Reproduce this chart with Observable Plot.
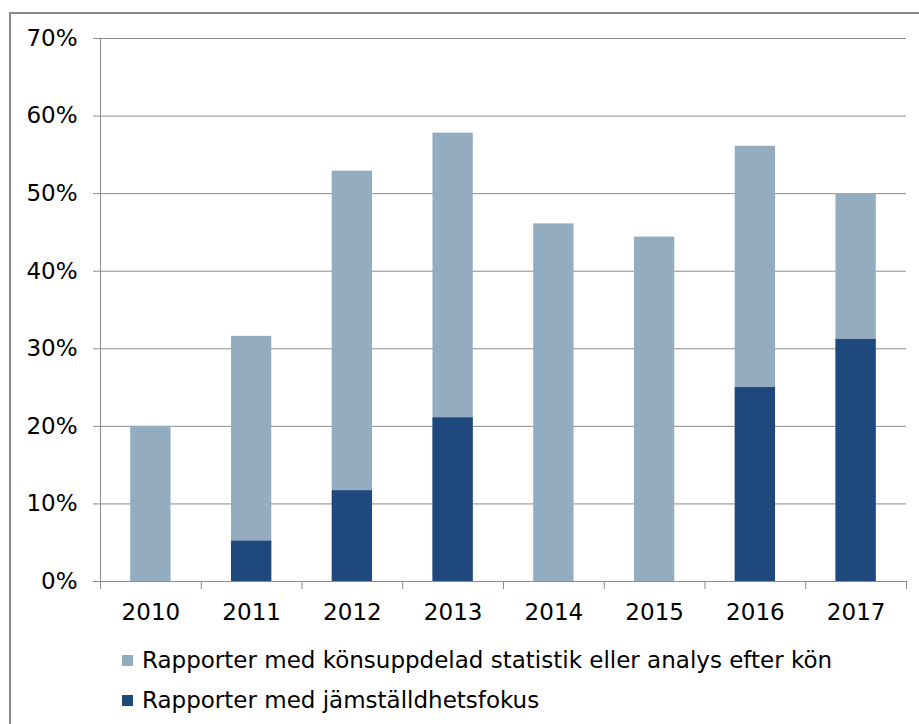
<!DOCTYPE html>
<html><head><meta charset="utf-8">
<script src="https://cdn.jsdelivr.net/npm/d3@7"></script>
<script src="https://cdn.jsdelivr.net/npm/@observablehq/plot@0.6"></script>
<style>
body{margin:0;background:#fff;font-family:"DejaVu Sans",Verdana,sans-serif;}
#wrap{position:relative;width:919px;height:724px;overflow:hidden;background:#fff;}
#border{position:absolute;left:9px;top:12px;width:1000px;height:1000px;border:2px solid #8a8a8a;box-sizing:border-box;}
#chart{position:absolute;left:0;top:0;}
#legend{position:absolute;left:122px;top:640px;font-size:23px;color:#000;}
.item{display:flex;align-items:center;height:40px;white-space:nowrap;}
.sw{width:11px;height:11px;margin-right:9px;flex:none;}
</style></head>
<body>
<div id="wrap"><div id="border"></div><div id="chart"></div><div id="legend"></div></div>
<script>
const years = ["2010","2011","2012","2013","2014","2015","2016","2017"];
const konsuppdelad = [0.200,0.316,0.529,0.578,0.461,0.444,0.561,0.500];
const jamstalldhet = [0,0.052,0.117,0.211,0,0,0.250,0.312];
const yTicks = [0,0.1,0.2,0.3,0.4,0.5,0.6,0.7];
const seriesNames = ["Rapporter med könsuppdelad statistik eller analys efter kön","Rapporter med jämställdhetsfokus"];
const colors = ["#93acbf","#1f497d"];
const gridColor = "#8c8c8c";

const rows = years.map((year,i)=>({year, i, total: konsuppdelad[i], fokus: jamstalldhet[i]}));
const boundaries = d3.range(years.length + 1);

const plot = Plot.plot({
  width: 919, height: 630,
  marginLeft: 100, marginRight: 13, marginTop: 38, marginBottom: 49,
  style: {fontFamily: '"DejaVu Sans", Verdana, sans-serif', fontSize: "23px", color: "#000", background: "transparent"},
  x: {type: "linear", domain: [0, years.length]},
  y: {domain: [0, 0.7]},
  marks: [
    Plot.gridY(yTicks, {stroke: gridColor, strokeOpacity: 1}),
    Plot.rect(rows, {x1: d => d.i + 0.3, x2: d => d.i + 0.7, y1: 0, y2: "total", fill: colors[0]}),
    Plot.rect(rows.filter(d => d.fokus > 0), {x1: d => d.i + 0.3, x2: d => d.i + 0.7, y1: 0, y2: "fokus", fill: colors[1]}),
    Plot.ruleX([0], {stroke: gridColor}),
    Plot.ruleY([0], {stroke: gridColor}),
    Plot.axisY(yTicks, {tickFormat: d3.format(".0%"), tickSize: 7, tickPadding: 16, stroke: gridColor, fill: "#000", fontSize: 23, label: null}),
    Plot.axisX(boundaries, {tickSize: 8, tickFormat: () => "", stroke: gridColor, label: null}),
    Plot.axisX(rows.map(d => d.i + 0.5), {tickSize: 0, tickPadding: 22, tickFormat: v => years[Math.floor(v)], fill: "#000", fontSize: 23, label: null})
  ]
});
document.getElementById("chart").appendChild(plot);

const legend = document.getElementById("legend");
seriesNames.forEach((name, k) => {
  const item = document.createElement("div");
  item.className = "item";
  const sw = document.createElement("span");
  sw.className = "sw";
  sw.style.background = colors[k];
  const t = document.createElement("span");
  t.textContent = name;
  item.appendChild(sw); item.appendChild(t);
  legend.appendChild(item);
});
</script>
</body></html>
